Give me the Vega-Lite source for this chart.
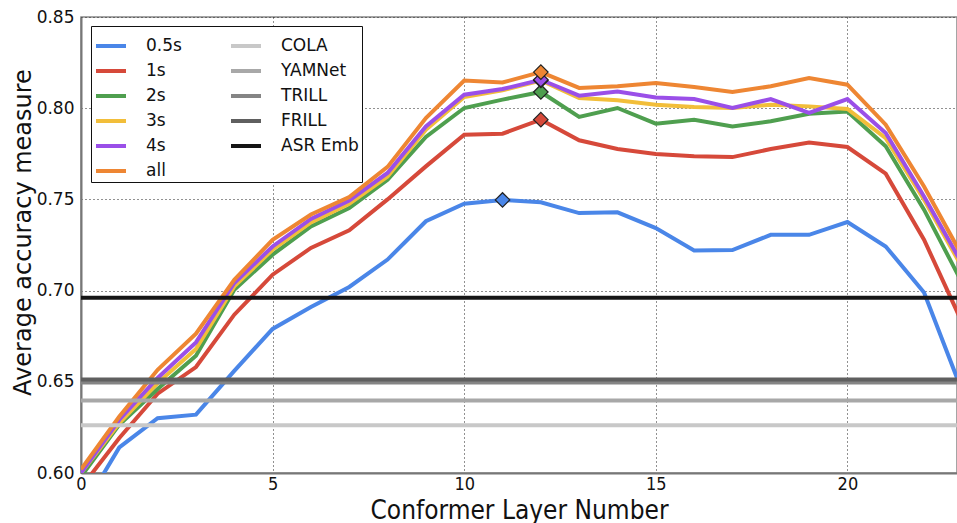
{
  "$schema": "https://vega.github.io/schema/vega-lite/v6.json",
  "width": 876,
  "height": 456,
  "autosize": {"type": "none"},
  "padding": {"left": 81, "top": 17, "right": 0, "bottom": 50},
  "background": "white",
  "config": {
    "font": "DejaVu Sans",
    "view": {"stroke": "#888888", "strokeWidth": 1.5},
    "legend": {
      "orient": "none",
      "legendX": 10,
      "legendY": 9,
      "title": null,
      "columns": 2,
      "direction": "vertical",
      "strokeColor": "#111111",
      "fillColor": "white",
      "padding": 3,
      "cornerRadius": 0,
      "symbolType": "stroke",
      "symbolSize": 900,
      "symbolStrokeWidth": 4,
      "labelFontSize": 17,
      "labelFont": "DejaVu Sans",
      "labelColor": "#111111",
      "labelOffset": 18,
      "columnPadding": 41,
      "rowPadding": -2
    }
  },
  "datasets": {
    "series": [
      {"layer": 0, "dur": "0.5s", "acc": 0.579}, {"layer": 1, "dur": "0.5s", "acc": 0.614}, {"layer": 2, "dur": "0.5s", "acc": 0.630}, {"layer": 3, "dur": "0.5s", "acc": 0.632}, {"layer": 4, "dur": "0.5s", "acc": 0.656}, {"layer": 5, "dur": "0.5s", "acc": 0.679}, {"layer": 6, "dur": "0.5s", "acc": 0.691}, {"layer": 7, "dur": "0.5s", "acc": 0.702}, {"layer": 8, "dur": "0.5s", "acc": 0.717}, {"layer": 9, "dur": "0.5s", "acc": 0.738}, {"layer": 10, "dur": "0.5s", "acc": 0.7476}, {"layer": 11, "dur": "0.5s", "acc": 0.7497}, {"layer": 12, "dur": "0.5s", "acc": 0.7484}, {"layer": 13, "dur": "0.5s", "acc": 0.7425}, {"layer": 14, "dur": "0.5s", "acc": 0.7429}, {"layer": 15, "dur": "0.5s", "acc": 0.7343}, {"layer": 16, "dur": "0.5s", "acc": 0.722}, {"layer": 17, "dur": "0.5s", "acc": 0.7222}, {"layer": 18, "dur": "0.5s", "acc": 0.7306}, {"layer": 19, "dur": "0.5s", "acc": 0.7306}, {"layer": 20, "dur": "0.5s", "acc": 0.7376}, {"layer": 21, "dur": "0.5s", "acc": 0.7242}, {"layer": 22, "dur": "0.5s", "acc": 0.699}, {"layer": 23, "dur": "0.5s", "acc": 0.6445},
      {"layer": 0, "dur": "1s", "acc": 0.592}, {"layer": 1, "dur": "1s", "acc": 0.6192}, {"layer": 2, "dur": "1s", "acc": 0.6435}, {"layer": 3, "dur": "1s", "acc": 0.6581}, {"layer": 4, "dur": "1s", "acc": 0.6868}, {"layer": 5, "dur": "1s", "acc": 0.7087}, {"layer": 6, "dur": "1s", "acc": 0.7234}, {"layer": 7, "dur": "1s", "acc": 0.733}, {"layer": 8, "dur": "1s", "acc": 0.750}, {"layer": 9, "dur": "1s", "acc": 0.7681}, {"layer": 10, "dur": "1s", "acc": 0.7855}, {"layer": 11, "dur": "1s", "acc": 0.786}, {"layer": 12, "dur": "1s", "acc": 0.7937}, {"layer": 13, "dur": "1s", "acc": 0.7824}, {"layer": 14, "dur": "1s", "acc": 0.7776}, {"layer": 15, "dur": "1s", "acc": 0.7749}, {"layer": 16, "dur": "1s", "acc": 0.7736}, {"layer": 17, "dur": "1s", "acc": 0.7732}, {"layer": 18, "dur": "1s", "acc": 0.7776}, {"layer": 19, "dur": "1s", "acc": 0.7812}, {"layer": 20, "dur": "1s", "acc": 0.7787}, {"layer": 21, "dur": "1s", "acc": 0.7641}, {"layer": 22, "dur": "1s", "acc": 0.7279}, {"layer": 23, "dur": "1s", "acc": 0.6822},
      {"layer": 0, "dur": "2s", "acc": 0.598}, {"layer": 1, "dur": "2s", "acc": 0.6265}, {"layer": 2, "dur": "2s", "acc": 0.6461}, {"layer": 3, "dur": "2s", "acc": 0.6643}, {"layer": 4, "dur": "2s", "acc": 0.7005}, {"layer": 5, "dur": "2s", "acc": 0.7197}, {"layer": 6, "dur": "2s", "acc": 0.7352}, {"layer": 7, "dur": "2s", "acc": 0.7453}, {"layer": 8, "dur": "2s", "acc": 0.7608}, {"layer": 9, "dur": "2s", "acc": 0.7842}, {"layer": 10, "dur": "2s", "acc": 0.8001}, {"layer": 11, "dur": "2s", "acc": 0.8047}, {"layer": 12, "dur": "2s", "acc": 0.8089}, {"layer": 13, "dur": "2s", "acc": 0.7952}, {"layer": 14, "dur": "2s", "acc": 0.8001}, {"layer": 15, "dur": "2s", "acc": 0.7915}, {"layer": 16, "dur": "2s", "acc": 0.7937}, {"layer": 17, "dur": "2s", "acc": 0.790}, {"layer": 18, "dur": "2s", "acc": 0.7928}, {"layer": 19, "dur": "2s", "acc": 0.797}, {"layer": 20, "dur": "2s", "acc": 0.7982}, {"layer": 21, "dur": "2s", "acc": 0.7791}, {"layer": 22, "dur": "2s", "acc": 0.7444}, {"layer": 23, "dur": "2s", "acc": 0.704},
      {"layer": 0, "dur": "3s", "acc": 0.600}, {"layer": 1, "dur": "3s", "acc": 0.6274}, {"layer": 2, "dur": "3s", "acc": 0.6493}, {"layer": 3, "dur": "3s", "acc": 0.668}, {"layer": 4, "dur": "3s", "acc": 0.7023}, {"layer": 5, "dur": "3s", "acc": 0.7224}, {"layer": 6, "dur": "3s", "acc": 0.7374}, {"layer": 7, "dur": "3s", "acc": 0.7476}, {"layer": 8, "dur": "3s", "acc": 0.7626}, {"layer": 9, "dur": "3s", "acc": 0.7882}, {"layer": 10, "dur": "3s", "acc": 0.8061}, {"layer": 11, "dur": "3s", "acc": 0.8098}, {"layer": 12, "dur": "3s", "acc": 0.8152}, {"layer": 13, "dur": "3s", "acc": 0.8056}, {"layer": 14, "dur": "3s", "acc": 0.8043}, {"layer": 15, "dur": "3s", "acc": 0.8019}, {"layer": 16, "dur": "3s", "acc": 0.8007}, {"layer": 17, "dur": "3s", "acc": 0.8001}, {"layer": 18, "dur": "3s", "acc": 0.8019}, {"layer": 19, "dur": "3s", "acc": 0.801}, {"layer": 20, "dur": "3s", "acc": 0.7996}, {"layer": 21, "dur": "3s", "acc": 0.7836}, {"layer": 22, "dur": "3s", "acc": 0.7498}, {"layer": 23, "dur": "3s", "acc": 0.7125},
      {"layer": 0, "dur": "4s", "acc": 0.600}, {"layer": 1, "dur": "4s", "acc": 0.6292}, {"layer": 2, "dur": "4s", "acc": 0.6521}, {"layer": 3, "dur": "4s", "acc": 0.6716}, {"layer": 4, "dur": "4s", "acc": 0.7042}, {"layer": 5, "dur": "4s", "acc": 0.7242}, {"layer": 6, "dur": "4s", "acc": 0.7393}, {"layer": 7, "dur": "4s", "acc": 0.7494}, {"layer": 8, "dur": "4s", "acc": 0.7645}, {"layer": 9, "dur": "4s", "acc": 0.790}, {"layer": 10, "dur": "4s", "acc": 0.8074}, {"layer": 11, "dur": "4s", "acc": 0.8105}, {"layer": 12, "dur": "4s", "acc": 0.8156}, {"layer": 13, "dur": "4s", "acc": 0.8069}, {"layer": 14, "dur": "4s", "acc": 0.8092}, {"layer": 15, "dur": "4s", "acc": 0.8059}, {"layer": 16, "dur": "4s", "acc": 0.805}, {"layer": 17, "dur": "4s", "acc": 0.8001}, {"layer": 18, "dur": "4s", "acc": 0.805}, {"layer": 19, "dur": "4s", "acc": 0.7974}, {"layer": 20, "dur": "4s", "acc": 0.805}, {"layer": 21, "dur": "4s", "acc": 0.7864}, {"layer": 22, "dur": "4s", "acc": 0.7516}, {"layer": 23, "dur": "4s", "acc": 0.7145},
      {"layer": 0, "dur": "all", "acc": 0.602}, {"layer": 1, "dur": "all", "acc": 0.631}, {"layer": 2, "dur": "all", "acc": 0.6566}, {"layer": 3, "dur": "all", "acc": 0.6764}, {"layer": 4, "dur": "all", "acc": 0.706}, {"layer": 5, "dur": "all", "acc": 0.7278}, {"layer": 6, "dur": "all", "acc": 0.7417}, {"layer": 7, "dur": "all", "acc": 0.7513}, {"layer": 8, "dur": "all", "acc": 0.7678}, {"layer": 9, "dur": "all", "acc": 0.7946}, {"layer": 10, "dur": "all", "acc": 0.8152}, {"layer": 11, "dur": "all", "acc": 0.8141}, {"layer": 12, "dur": "all", "acc": 0.8198}, {"layer": 13, "dur": "all", "acc": 0.8111}, {"layer": 14, "dur": "all", "acc": 0.812}, {"layer": 15, "dur": "all", "acc": 0.8138}, {"layer": 16, "dur": "all", "acc": 0.8116}, {"layer": 17, "dur": "all", "acc": 0.8089}, {"layer": 18, "dur": "all", "acc": 0.812}, {"layer": 19, "dur": "all", "acc": 0.8166}, {"layer": 20, "dur": "all", "acc": 0.8129}, {"layer": 21, "dur": "all", "acc": 0.791}, {"layer": 22, "dur": "all", "acc": 0.7571}, {"layer": 23, "dur": "all", "acc": 0.7188}
    ],
    "baselines": [
      {"dur": "COLA", "acc": 0.6262},
      {"dur": "YAMNet", "acc": 0.6398},
      {"dur": "TRILL", "acc": 0.6496},
      {"dur": "FRILL", "acc": 0.6512},
      {"dur": "ASR Emb", "acc": 0.6961}
    ],
    "peaks": [
      {"layer": 11, "dur": "0.5s", "acc": 0.7497},
      {"layer": 12, "dur": "1s", "acc": 0.7937},
      {"layer": 12, "dur": "2s", "acc": 0.8089},
      {"layer": 12, "dur": "3s", "acc": 0.8152},
      {"layer": 12, "dur": "4s", "acc": 0.8156},
      {"layer": 12, "dur": "all", "acc": 0.8198}
    ]
  },
  "layer": [
    {
      "data": {"name": "series"},
      "mark": {"type": "line", "strokeWidth": 4, "clip": true},
      "encoding": {
        "x": {
          "field": "layer", "type": "quantitative",
          "scale": {"domain": [0, 22.86], "nice": false, "zero": false},
          "axis": {
            "title": "Conformer Layer Number",
            "titleFont": "DejaVu Sans Condensed",
            "titleFontSize": 26,
            "titleFontWeight": "normal",
            "titleColor": "#111111",
            "titlePadding": 4,
            "values": [0, 5, 10, 15, 20],
            "labelFont": "DejaVu Sans Condensed",
            "labelFontSize": 18,
            "labelColor": "#111111",
            "labelPadding": 2,
            "labelFlush": false,
            "ticks": false,
            "domainColor": "#777777",
            "domainWidth": 2,
            "grid": true,
            "gridColor": "#222222",
            "gridDash": [1, 3],
            "gridWidth": 1,
            "gridOpacity": 1
          }
        },
        "y": {
          "field": "acc", "type": "quantitative",
          "scale": {"domain": [0.6, 0.85], "nice": false, "zero": false},
          "axis": {
            "title": "Average accuracy measure",
            "titleFontSize": 24,
            "titleFontWeight": "normal",
            "titleColor": "#111111",
            "titlePadding": 1,
            "titleY": 215,
            "values": [0.6, 0.65, 0.7, 0.75, 0.8, 0.85],
            "format": ".2f",
            "labelFontSize": 17,
            "labelColor": "#111111",
            "labelPadding": 7,
            "labelFlush": false,
            "ticks": false,
            "domainColor": "#777777",
            "domainWidth": 2,
            "grid": true,
            "gridColor": "#222222",
            "gridDash": [1, 3],
            "gridWidth": 1,
            "gridOpacity": 1
          }
        },
        "color": {
          "field": "dur", "type": "nominal",
          "scale": {
            "domain": ["0.5s", "1s", "2s", "3s", "4s", "all", "COLA", "YAMNet", "TRILL", "FRILL", "ASR Emb"],
            "range": ["#4a86e8", "#d6493a", "#4f9f4f", "#f2be3a", "#9a4fe8", "#ee8633", "#c8c8c8", "#a8a8a8", "#858585", "#5f5f5f", "#151515"]
          }
        }
      }
    },
    {
      "data": {"name": "baselines"},
      "mark": {"type": "rule", "strokeWidth": 4},
      "encoding": {
        "y": {"field": "acc", "type": "quantitative"},
        "color": {"field": "dur", "type": "nominal"}
      }
    },
    {
      "data": {"name": "peaks"},
      "mark": {"type": "point", "shape": "diamond", "filled": true, "size": 210, "stroke": "#222222", "strokeWidth": 1.2, "opacity": 1},
      "encoding": {
        "x": {"field": "layer", "type": "quantitative"},
        "y": {"field": "acc", "type": "quantitative"},
        "fill": {
          "field": "dur", "type": "nominal", "legend": null,
          "scale": {
            "domain": ["0.5s", "1s", "2s", "3s", "4s", "all"],
            "range": ["#4a86e8", "#d6493a", "#4f9f4f", "#f2be3a", "#9a4fe8", "#ee8633"]
          }
        }
      }
    }
  ]
}
